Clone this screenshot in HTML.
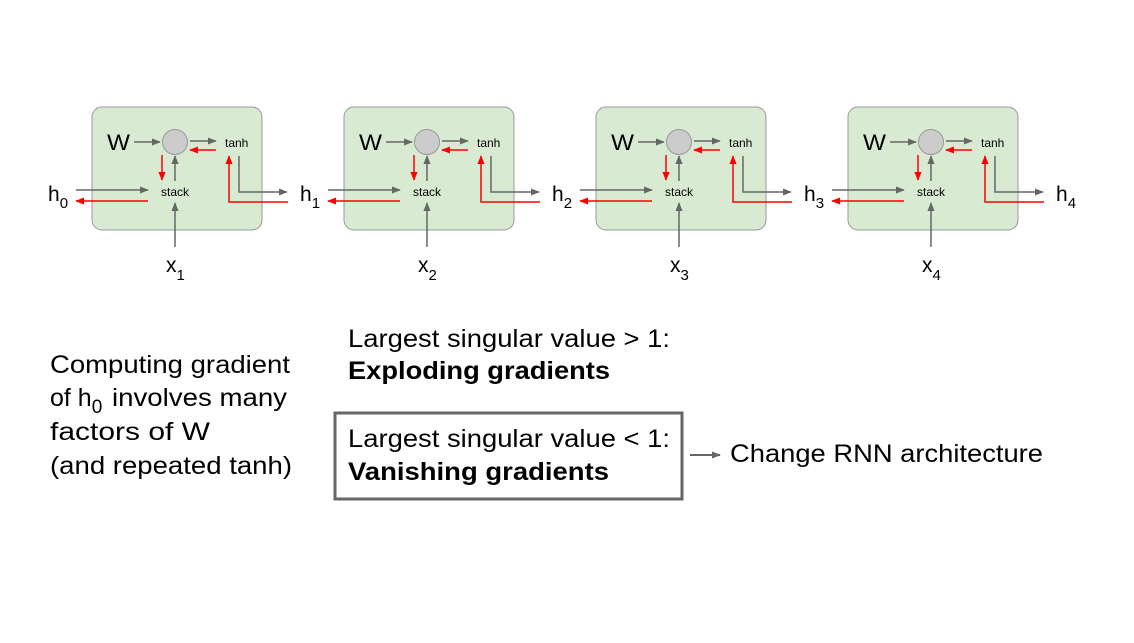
<!DOCTYPE html>
<html><head><style>
html,body{margin:0;padding:0;background:#fff;}
svg{display:block;font-family:"Liberation Sans",Arial,sans-serif;}
</style></head><body>
<svg width="1134" height="643" viewBox="0 0 1134 643" xmlns="http://www.w3.org/2000/svg">
<defs>
<marker id="ag" viewBox="0 0 10 10" refX="9" refY="5" markerWidth="9" markerHeight="9" markerUnits="userSpaceOnUse" orient="auto"><path d="M0,1 L10,5 L0,9 z" fill="#666"/></marker>
<marker id="ar" viewBox="0 0 10 10" refX="9" refY="5" markerWidth="9" markerHeight="9" markerUnits="userSpaceOnUse" orient="auto"><path d="M0,1 L10,5 L0,9 z" fill="#f00"/></marker>
</defs>
<g id="c1">
<rect x="92" y="107" width="170" height="123" rx="10" fill="#d9ead3" stroke="#999"/>
<circle cx="175" cy="142" r="12.5" fill="#ccc" stroke="#999"/>
<text x="107" y="150" font-size="22" textLength="23" lengthAdjust="spacingAndGlyphs">W</text>
<line x1="134" y1="142" x2="160" y2="142" stroke="#666" stroke-width="1.5" marker-end="url(#ag)"/>
<line x1="190" y1="141" x2="216" y2="141" stroke="#666" stroke-width="1.5" marker-end="url(#ag)"/>
<line x1="216" y1="150" x2="190" y2="150" stroke="#f00" stroke-width="1.5" marker-end="url(#ar)"/>
<text x="225" y="147" font-size="12">tanh</text>
<line x1="175" y1="181" x2="175" y2="156" stroke="#666" stroke-width="1.5" marker-end="url(#ag)"/>
<line x1="162" y1="155" x2="162" y2="180" stroke="#f00" stroke-width="1.5" marker-end="url(#ar)"/>
<text x="175" y="196" font-size="12" text-anchor="middle">stack</text>
<line x1="76" y1="190" x2="148" y2="190" stroke="#666" stroke-width="1.5" marker-end="url(#ag)"/>
<line x1="148" y1="201" x2="76" y2="201" stroke="#f00" stroke-width="1.5" marker-end="url(#ar)"/>
<line x1="175" y1="247" x2="175" y2="203" stroke="#666" stroke-width="1.5" marker-end="url(#ag)"/>
<polyline points="239,156 239,192 287,192" fill="none" stroke="#666" stroke-width="1.5" marker-end="url(#ag)"/>
<polyline points="288,202 229,202 229,156" fill="none" stroke="#f00" stroke-width="1.5" marker-end="url(#ar)"/>
</g>
<use href="#c1" x="252"/>
<use href="#c1" x="504"/>
<use href="#c1" x="756"/>
<g font-size="21">
<text x="48" y="201">h<tspan font-size="15" dy="7">0</tspan></text>
<text x="300" y="201">h<tspan font-size="15" dy="7">1</tspan></text>
<text x="552" y="201">h<tspan font-size="15" dy="7">2</tspan></text>
<text x="804" y="201">h<tspan font-size="15" dy="7">3</tspan></text>
<text x="1056" y="201">h<tspan font-size="15" dy="7">4</tspan></text>
<text x="166" y="272">x<tspan font-size="15" dy="8">1</tspan></text>
<text x="418" y="272">x<tspan font-size="15" dy="8">2</tspan></text>
<text x="670" y="272">x<tspan font-size="15" dy="8">3</tspan></text>
<text x="922" y="272">x<tspan font-size="15" dy="8">4</tspan></text>
</g>
<g font-size="25" fill="#000">
<text x="50" y="373" textLength="240" lengthAdjust="spacingAndGlyphs">Computing gradient</text>
<text x="50" y="406">of h<tspan font-size="19" dy="7">0</tspan></text>
<text x="112" y="406" textLength="175" lengthAdjust="spacingAndGlyphs">involves many</text>
<text x="50" y="440" textLength="160" lengthAdjust="spacingAndGlyphs">factors of W</text>
<text x="50" y="474" textLength="242" lengthAdjust="spacingAndGlyphs">(and repeated tanh)</text>
<text x="348" y="347" textLength="322" lengthAdjust="spacingAndGlyphs">Largest singular value &gt; 1:</text>
<text x="348" y="379" font-weight="bold" textLength="262" lengthAdjust="spacingAndGlyphs">Exploding gradients</text>
<text x="348" y="447" textLength="322" lengthAdjust="spacingAndGlyphs">Largest singular value &lt; 1:</text>
<text x="348" y="480" font-weight="bold" textLength="261" lengthAdjust="spacingAndGlyphs">Vanishing gradients</text>
<text x="730" y="462" textLength="313" lengthAdjust="spacingAndGlyphs">Change RNN architecture</text>
</g>
<rect x="335" y="413" width="347" height="86" fill="none" stroke="#666" stroke-width="3"/>
<line x1="690" y1="455" x2="720" y2="455" stroke="#666" stroke-width="2" marker-end="url(#ag)"/>
</svg>
</body></html>
